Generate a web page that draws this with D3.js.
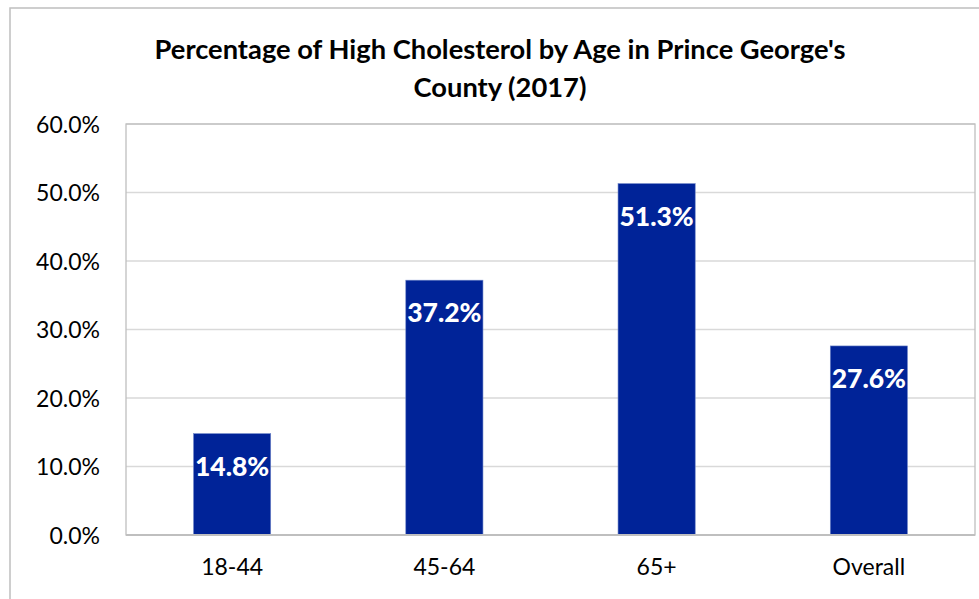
<!DOCTYPE html>
<html><head><meta charset="utf-8">
<script src="https://cdn.jsdelivr.net/npm/d3@7/dist/d3.min.js"></script>
<style>html,body{margin:0;padding:0;background:#fff;overflow:hidden}</style>
</head><body>
<svg id="chart" width="979" height="599"></svg>
<script>
const categories = ["18-44", "45-64", "65+", "Overall"];
const values = [14.8, 37.2, 51.3, 27.6];
const yTicks = [0, 10, 20, 30, 40, 50, 60];
const titleLines = ["Percentage of High Cholesterol by Age in Prince George's", "County (2017)"];

const svg = d3.select("#chart");
const font = "Lato, 'Open Sans', sans-serif";
const m = {left: 126, top: 124, right: 975, bottom: 535};

// outer chart border (extends beyond canvas)
svg.append("rect").attr("x", 10).attr("y", 8).attr("width", 1000).attr("height", 620)
  .attr("fill", "#fff").attr("stroke", "#bfbfbf").attr("stroke-width", 1.5);

const x = d3.scaleBand().domain(categories).range([m.left, m.right]).padding(0);
const y = d3.scaleLinear().domain([0, 60]).range([m.bottom, m.top]);
const barW = x.bandwidth() / 2.75;

// gridlines
svg.append("g").selectAll("line").data(yTicks.filter(d => d > 0)).join("line")
  .attr("x1", m.left).attr("x2", m.right)
  .attr("y1", d => y(d)).attr("y2", d => y(d))
  .attr("stroke", "#d9d9d9").attr("stroke-width", 1.3);

// plot border
svg.append("rect").attr("x", m.left).attr("y", m.top)
  .attr("width", m.right - m.left).attr("height", m.bottom - m.top)
  .attr("fill", "none").attr("stroke", "#bfbfbf").attr("stroke-width", 1.3);

// bars
svg.append("g").selectAll("rect").data(values).join("rect")
  .attr("x", (d, i) => x(categories[i]) + x.bandwidth() / 2 - barW / 2)
  .attr("y", d => y(d))
  .attr("width", barW)
  .attr("height", d => y(0) - y(d))
  .attr("fill", "#002398")
  .attr("stroke", "#6f86c9").attr("stroke-width", 0.6);

// bottom axis line
svg.append("line").attr("x1", m.left).attr("x2", m.right)
  .attr("y1", m.bottom).attr("y2", m.bottom)
  .attr("stroke", "#bfbfbf").attr("stroke-width", 2);

// value labels
svg.append("g").selectAll("text").data(values).join("text")
  .attr("x", (d, i) => x(categories[i]) + x.bandwidth() / 2)
  .attr("y", d => y(d) + 32)
  .attr("text-anchor", "middle").attr("dominant-baseline", "central")
  .attr("font-family", font).attr("font-weight", "900").attr("font-size", 26.5)
  .attr("fill", "#fff")
  .text(d => d.toFixed(1) + "%");

// y axis
const yAxis = d3.axisLeft(y).tickValues(yTicks).tickSize(0).tickPadding(26)
  .tickFormat(d => d.toFixed(1) + "%");
const gy = svg.append("g").attr("transform", `translate(${m.left},0)`).call(yAxis);
gy.select(".domain").remove();
gy.selectAll("text").attr("font-family", font).attr("font-size", 23).attr("fill", "#000")
  .attr("dy", "0.35em");

// x axis
const xAxis = d3.axisBottom(x).tickSize(0).tickPadding(24);
const gx = svg.append("g").attr("transform", `translate(0,${m.bottom})`).call(xAxis);
gx.select(".domain").remove();
gx.selectAll("text").attr("font-family", font).attr("font-size", 23).attr("fill", "#000");

// title
svg.append("g").selectAll("text").data(titleLines).join("text")
  .attr("x", 500).attr("y", (d, i) => 48 + i * 38)
  .attr("text-anchor", "middle").attr("dominant-baseline", "central")
  .attr("font-family", font).attr("font-weight", "bold").attr("font-size", 27.3)
  .attr("fill", "#000")
  .text(d => d);
</script>
</body></html>
